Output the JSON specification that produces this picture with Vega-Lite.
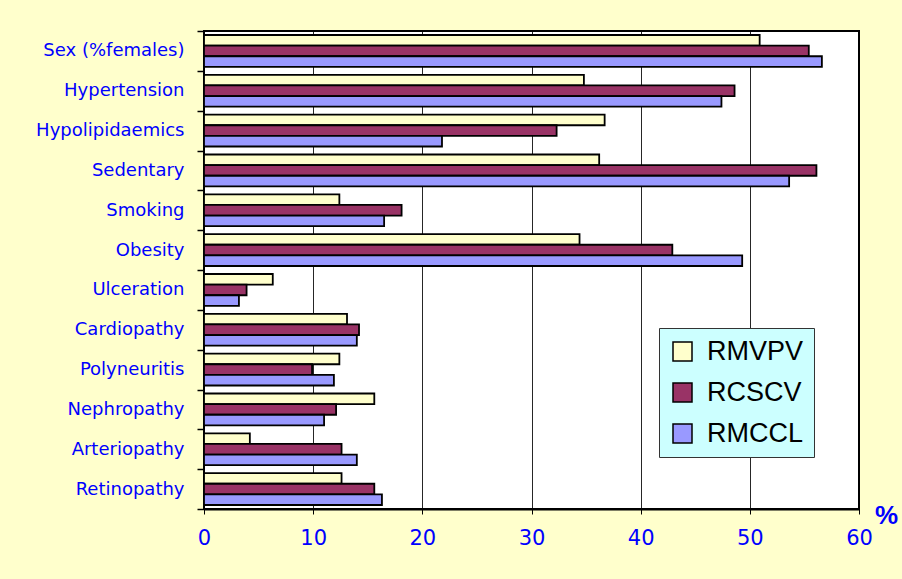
{
  "$schema": "https://vega.github.io/schema/vega-lite/v6.json",
  "width": 655,
  "height": 478,
  "autosize": {"type": "none"},
  "padding": {"left": 204, "top": 31, "right": 43, "bottom": 70},
  "background": "#FFFFCC",
  "config": {
    "font": "Liberation Sans",
    "view": {"fill": "#FFFFFF", "stroke": "#000000", "strokeWidth": 2}
  },
  "data": {
    "values": [
      {"factor": "Sex (%females)", "series": "RMVPV", "value": 50.9},
      {"factor": "Sex (%females)", "series": "RCSCV", "value": 55.4},
      {"factor": "Sex (%females)", "series": "RMCCL", "value": 56.6},
      {"factor": "Hypertension", "series": "RMVPV", "value": 34.8},
      {"factor": "Hypertension", "series": "RCSCV", "value": 48.6},
      {"factor": "Hypertension", "series": "RMCCL", "value": 47.4},
      {"factor": "Hypolipidaemics", "series": "RMVPV", "value": 36.7},
      {"factor": "Hypolipidaemics", "series": "RCSCV", "value": 32.3},
      {"factor": "Hypolipidaemics", "series": "RMCCL", "value": 21.8},
      {"factor": "Sedentary", "series": "RMVPV", "value": 36.2},
      {"factor": "Sedentary", "series": "RCSCV", "value": 56.1},
      {"factor": "Sedentary", "series": "RMCCL", "value": 53.6},
      {"factor": "Smoking", "series": "RMVPV", "value": 12.4},
      {"factor": "Smoking", "series": "RCSCV", "value": 18.1},
      {"factor": "Smoking", "series": "RMCCL", "value": 16.5},
      {"factor": "Obesity", "series": "RMVPV", "value": 34.4},
      {"factor": "Obesity", "series": "RCSCV", "value": 42.9},
      {"factor": "Obesity", "series": "RMCCL", "value": 49.3},
      {"factor": "Ulceration", "series": "RMVPV", "value": 6.3},
      {"factor": "Ulceration", "series": "RCSCV", "value": 3.9},
      {"factor": "Ulceration", "series": "RMCCL", "value": 3.2},
      {"factor": "Cardiopathy", "series": "RMVPV", "value": 13.1},
      {"factor": "Cardiopathy", "series": "RCSCV", "value": 14.2},
      {"factor": "Cardiopathy", "series": "RMCCL", "value": 14.0},
      {"factor": "Polyneuritis", "series": "RMVPV", "value": 12.4},
      {"factor": "Polyneuritis", "series": "RCSCV", "value": 9.9},
      {"factor": "Polyneuritis", "series": "RMCCL", "value": 11.9},
      {"factor": "Nephropathy", "series": "RMVPV", "value": 15.6},
      {"factor": "Nephropathy", "series": "RCSCV", "value": 12.1},
      {"factor": "Nephropathy", "series": "RMCCL", "value": 11.0},
      {"factor": "Arteriopathy", "series": "RMVPV", "value": 4.2},
      {"factor": "Arteriopathy", "series": "RCSCV", "value": 12.6},
      {"factor": "Arteriopathy", "series": "RMCCL", "value": 14.0},
      {"factor": "Retinopathy", "series": "RMVPV", "value": 12.6},
      {"factor": "Retinopathy", "series": "RCSCV", "value": 15.6},
      {"factor": "Retinopathy", "series": "RMCCL", "value": 16.3}
    ]
  },
  "mark": {"type": "bar", "stroke": "#000000", "strokeWidth": 1.8},
  "encoding": {
    "y": {
      "field": "factor",
      "type": "nominal",
      "sort": null,
      "scale": {"paddingInner": 0, "paddingOuter": 0},
      "axis": {
        "title": null,
        "tickBand": "extent",
        "tickSize": 7,
        "tickColor": "#000000",
        "tickWidth": 1.5,
        "domain": false,
        "labelColor": "#0000FF",
        "labelFontSize": 18,
        "labelPadding": 13,
        "labelFont": "DejaVu Sans",
        "labelLimit": 250
      }
    },
    "yOffset": {
      "field": "series",
      "type": "nominal",
      "sort": ["RMVPV", "RCSCV", "RMCCL"],
      "scale": {"paddingInner": 0, "paddingOuter": 0.375}
    },
    "x": {
      "field": "value",
      "type": "quantitative",
      "scale": {"domain": [0, 60], "nice": false},
      "axis": {
        "values": [0, 10, 20, 30, 40, 50, 60],
        "title": "%",
        "titleAngle": 0,
        "titleX": 682,
        "titleY": 6,
        "titleAlign": "center",
        "titleBaseline": "middle",
        "titleFontSize": 26,
        "titleFontWeight": "bold",
        "titleColor": "#0000FF",
        "grid": true,
        "gridColor": "#000000",
        "gridWidth": 1,
        "gridOpacity": 0.85,
        "domain": true,
        "domainColor": "#000000",
        "domainWidth": 2,
        "tickColor": "#000000",
        "tickSize": 5,
        "labelColor": "#0000FF",
        "labelFont": "DejaVu Sans",
        "labelFontSize": 21,
        "labelPadding": 13,
        "labelFlush": false
      }
    },
    "fill": {
      "field": "series",
      "type": "nominal",
      "sort": ["RMVPV", "RCSCV", "RMCCL"],
      "scale": {
        "domain": ["RMVPV", "RCSCV", "RMCCL"],
        "range": ["#FFFFCC", "#993366", "#9999FF"]
      },
      "legend": {
        "title": null,
        "orient": "none",
        "legendX": 455,
        "legendY": 297,
        "fillColor": "#CCFFFF",
        "strokeColor": "#333333",
        "padding": 10,
        "symbolType": "square",
        "symbolSize": 361,
        "symbolStrokeColor": "#000000",
        "symbolStrokeWidth": 1.5,
        "labelFontSize": 27,
        "labelColor": "#000000",
        "labelOffset": 11,
        "rowPadding": 13,
        "labelLimit": 200
      }
    }
  }
}
